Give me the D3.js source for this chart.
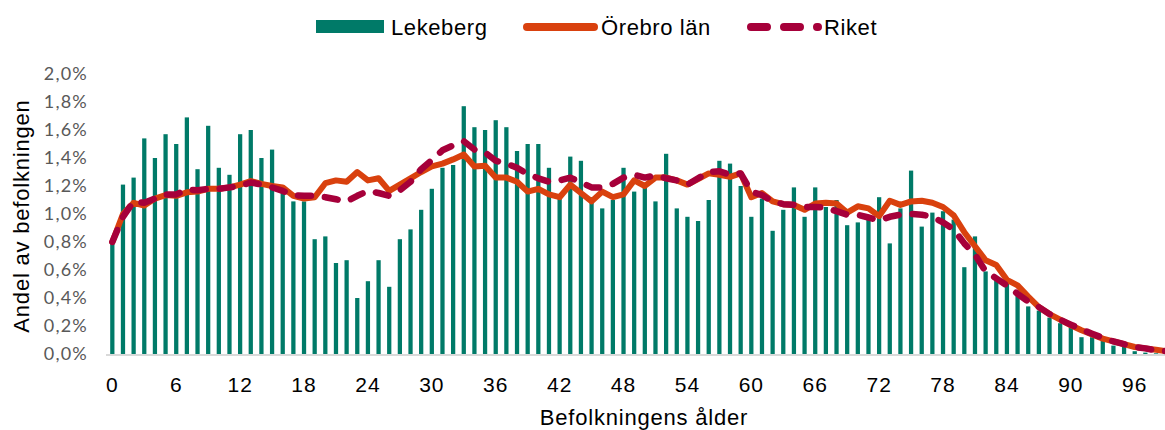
<!DOCTYPE html>
<html>
<head>
<meta charset="utf-8">
<script src="https://cdn.jsdelivr.net/npm/d3@7"></script>
<style>
  body { margin: 0; background: #fff; }
  svg { display: block; font-family: "Liberation Sans", Arial, sans-serif; }
</style>
</head>
<body>
<div id="chart"></div>
<script>
var width = 1165;
var height = 430;

// ages 0..99
var ages = d3.range(0, 100);

var lekeberg = [0.79, 1.21, 1.26, 1.54, 1.40, 1.57, 1.50, 1.69, 1.32, 1.63,
                1.33, 1.28, 1.57, 1.60, 1.40, 1.46, 1.16, 1.09, 1.09, 0.82,
                0.84, 0.65, 0.67, 0.40, 0.52, 0.67, 0.48, 0.82, 0.89, 1.03,
                1.18, 1.33, 1.35, 1.77, 1.62, 1.60, 1.67, 1.62, 1.45, 1.50,
                1.50, 1.33, 1.12, 1.41, 1.38, 1.12, 1.04, 1.10, 1.33, 1.16,
                1.20, 1.09, 1.43, 1.04, 0.98, 0.95, 1.10, 1.38, 1.36, 1.20,
                0.98, 1.11, 0.88, 1.03, 1.19, 0.98, 1.19, 1.05, 1.10, 0.92,
                0.94, 0.99, 1.12, 0.79, 1.04, 1.31, 0.91, 1.01, 1.02, 0.96,
                0.62, 0.84, 0.59, 0.55, 0.50, 0.43, 0.34, 0.31, 0.26, 0.22,
                0.19, 0.12, 0.12, 0.10, 0.06, 0.05, 0.02, 0.01, 0.005, 0.0];

var orebro = [0.80, 1.00, 1.08, 1.06, 1.11, 1.135, 1.13, 1.155, 1.16, 1.18,
              1.18, 1.19, 1.21, 1.235, 1.215, 1.20, 1.19, 1.13, 1.11, 1.12,
              1.22, 1.24, 1.23, 1.30, 1.24, 1.255, 1.165, 1.21, 1.255, 1.30,
              1.34, 1.36, 1.39, 1.425, 1.34, 1.345, 1.26, 1.26, 1.23, 1.16,
              1.18, 1.14, 1.12, 1.21, 1.15, 1.09, 1.16, 1.12, 1.14, 1.24,
              1.20, 1.26, 1.26, 1.24, 1.21, 1.25, 1.29, 1.28, 1.265, 1.29,
              1.12, 1.15, 1.09, 1.07, 1.065, 1.03, 1.075, 1.08, 1.075, 1.01,
              1.055, 1.04, 0.985, 1.095, 1.065, 1.09, 1.095, 1.08, 1.05, 0.99,
              0.87, 0.77, 0.67, 0.635, 0.53, 0.49, 0.41, 0.335, 0.285, 0.245,
              0.205, 0.17, 0.14, 0.11, 0.09, 0.07, 0.05, 0.04, 0.03, 0.02];

var riket = [0.80, 0.98, 1.09, 1.08, 1.11, 1.14, 1.14, 1.175, 1.17, 1.18,
             1.18, 1.19, 1.20, 1.225, 1.21, 1.19, 1.165, 1.135, 1.13, 1.13,
             1.12, 1.105, 1.09, 1.13, 1.165, 1.15, 1.13, 1.17, 1.23, 1.32,
             1.385, 1.455, 1.49, 1.52, 1.46, 1.44, 1.38, 1.36, 1.33, 1.285,
             1.255, 1.23, 1.24, 1.26, 1.225, 1.19, 1.19, 1.215, 1.26, 1.28,
             1.26, 1.275, 1.255, 1.24, 1.21, 1.255, 1.30, 1.305, 1.28, 1.29,
             1.16, 1.135, 1.09, 1.07, 1.065, 1.05, 1.05, 1.045, 1.02, 0.995,
             0.995, 0.975, 0.955, 0.98, 0.995, 1.0, 0.995, 0.98, 0.94, 0.89,
             0.79, 0.71, 0.59, 0.54, 0.49, 0.43, 0.375, 0.335, 0.285, 0.245,
             0.21, 0.175, 0.145, 0.115, 0.09, 0.07, 0.05, 0.04, 0.025, 0.02];

var yTicks = [0, 0.2, 0.4, 0.6, 0.8, 1.0, 1.2, 1.4, 1.6, 1.8, 2.0];
var xTicks = [0, 6, 12, 18, 24, 30, 36, 42, 48, 54, 60, 66, 72, 78, 84, 90, 96];

var seriesNames = ["Lekeberg", "Örebro län", "Riket"];
var teal = "#007A68";
var orange = "#D9410E";
var crimson = "#A6003A";

var svg = d3.select("#chart")
		.append("svg")
		.attr("width", width)
		.attr("height", height);

var xScale = d3.scaleBand()
		.domain(ages)
		.range([107, 1172])
		.paddingInner(0.6)
		.paddingOuter(0.3);

var yScale = d3.scaleLinear()
		.domain([0, 2])
		.range([354, 74]);

function cx(a) { return xScale(a) + xScale.bandwidth() / 2; }

// y axis labels
var yAxis = svg.append("g")
		.attr("transform", "translate(90,0)")
		.call(d3.axisLeft(yScale).tickValues(yTicks).tickSize(0).tickPadding(2)
			.tickFormat(function(d) { return d3.format(".1f")(d).replace(".", ",") + "%"; }));
yAxis.select(".domain").remove();
yAxis.selectAll("text")
		.attr("font-family", "Lato, 'Open Sans', sans-serif")
		.attr("font-weight", 400)
		.attr("font-size", 18)
		.attr("letter-spacing", 1.2)
		.attr("fill", "#595959");

// bars
svg.append("g")
		.selectAll("rect")
		.data(lekeberg)
		.enter()
		.append("rect")
		.attr("x", function(d, i) { return xScale(ages[i]); })
		.attr("y", function(d) { return yScale(d); })
		.attr("width", xScale.bandwidth())
		.attr("height", function(d) { return yScale(0) - yScale(d); })
		.attr("fill", teal);

// baseline
svg.append("line")
		.attr("x1", 106)
		.attr("x2", width)
		.attr("y1", yScale(0) + 1)
		.attr("y2", yScale(0) + 1)
		.attr("stroke", "#d9d9d9")
		.attr("stroke-width", 2);

var line = d3.line()
		.x(function(d, i) { return cx(ages[i]); })
		.y(function(d) { return yScale(d); });

svg.append("path")
		.datum(orebro)
		.attr("d", line)
		.attr("fill", "none")
		.attr("stroke", orange)
		.attr("stroke-width", 6)
		.attr("stroke-linejoin", "round")
		.attr("stroke-linecap", "round");

svg.append("path")
		.datum(riket)
		.attr("d", line)
		.attr("fill", "none")
		.attr("stroke", crimson)
		.attr("stroke-width", 6.5)
		.attr("stroke-dasharray", "13,14")
		.attr("stroke-linejoin", "round")
		.attr("stroke-linecap", "round");

// x axis labels
var xAxis = svg.append("g")
		.attr("transform", "translate(0,392)")
		.call(d3.axisBottom(xScale).tickValues(xTicks).tickSize(0).tickPadding(0));
xAxis.select(".domain").remove();
xAxis.selectAll("text")
		.attr("y", 0)
		.attr("dy", 0)
		.attr("font-size", 21)
		.attr("letter-spacing", 1)
		.attr("fill", "#000");

// axis titles
svg.append("text")
		.attr("x", 644)
		.attr("y", 425)
		.attr("text-anchor", "middle")
		.attr("font-size", 22)
		.attr("letter-spacing", 0.8)
		.attr("fill", "#000")
		.text("Befolkningens ålder");

svg.append("text")
		.attr("transform", "translate(29,216) rotate(-90)")
		.attr("text-anchor", "middle")
		.attr("font-size", 22)
		.attr("letter-spacing", 0.8)
		.attr("fill", "#000")
		.text("Andel av befolkningen");

// legend
var legend = svg.append("g");
legend.append("rect")
		.attr("x", 316).attr("y", 20).attr("width", 68).attr("height", 13)
		.attr("fill", teal);
legend.append("line")
		.attr("x1", 527).attr("x2", 594).attr("y1", 27).attr("y2", 27)
		.attr("stroke", orange).attr("stroke-width", 8).attr("stroke-linecap", "round");
legend.append("line")
		.attr("x1", 751).attr("x2", 818).attr("y1", 27).attr("y2", 27)
		.attr("stroke", crimson).attr("stroke-width", 8).attr("stroke-linecap", "round")
		.attr("stroke-dasharray", "16,17");
var legendX = [391, 601, 824];
legend.selectAll("text")
		.data(seriesNames)
		.enter()
		.append("text")
		.attr("x", function(d, i) { return legendX[i]; })
		.attr("y", 35)
		.attr("font-size", 22)
		.attr("letter-spacing", 0.6)
		.attr("fill", "#000")
		.text(function(d) { return d; });
</script>
</body>
</html>
